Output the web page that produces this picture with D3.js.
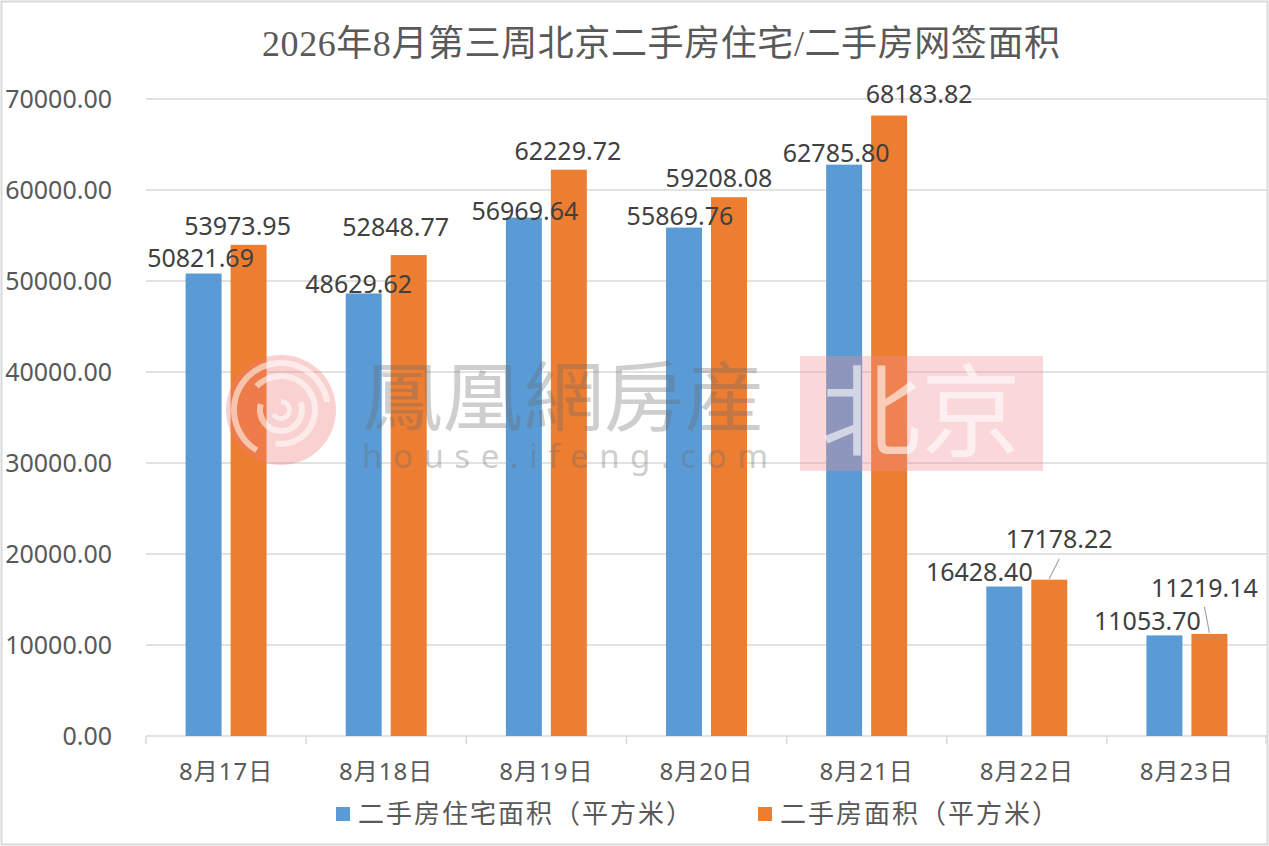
<!DOCTYPE html>
<html>
<head>
<meta charset="utf-8">
<script src="https://cdn.jsdelivr.net/npm/d3@7/dist/d3.min.js"></script>
<style>
  body { margin: 0; background: #fff; }
</style>
</head>
<body>
<div id="chart"></div>
<script>
const title = "2026年8月第三周北京二手房住宅/二手房网签面积";
const categories = ["8月17日", "8月18日", "8月19日", "8月20日", "8月21日", "8月22日", "8月23日"];
const residentialArea = [50821.69, 48629.62, 56969.64, 55869.76, 62785.80, 16428.40, 11053.70];
const totalArea = [53973.95, 52848.77, 62229.72, 59208.08, 68183.82, 17178.22, 11219.14];
const seriesNames = ["二手房住宅面积（平方米）", "二手房面积（平方米）"];
const yTicks = [0, 10000, 20000, 30000, 40000, 50000, 60000, 70000];

// labels were dragged by hand in the original: [dx, dy] of label centre from bar top centre
const labelNudge = [
    [[-3, -15], [-5, -9], [1, -6], [-4, -11], [-8, -11], [-25, -14], [-17, -14]],
    [[-11, -19], [-13, -28], [-1, -18], [-10, -19], [30, -21], [10, -40], [-5, -46]]
];

const width = 1269;
const height = 846;
const marginLeft = 146;
const marginRight = 2;
const marginTop = 99;
const baseY = 736;
const colors = ["#5b9bd5", "#ed7d31"];
const numFont = "'Noto Sans', 'Open Sans', sans-serif";
const cjkFont = "'Noto Sans', 'Noto Sans CJK SC', sans-serif";

const series = [residentialArea, totalArea];

const svg = d3.select("#chart").append("svg")
    .attr("width", width)
    .attr("height", height)
    .attr("viewBox", [0, 0, width, height]);

// chart frame
svg.append("rect")
    .attr("x", 1.5).attr("y", 1.5)
    .attr("width", width - 3).attr("height", height - 3)
    .attr("fill", "#fff")
    .attr("stroke", "#d9d9d9")
    .attr("stroke-width", 2);

// scales
const x = d3.scaleBand()
    .domain(categories)
    .range([marginLeft, width - marginRight])
    .padding(0);

const x1 = d3.scaleBand()
    .domain([0, 1])
    .range([0, x.bandwidth()])
    .paddingInner(0.2)
    .paddingOuter(0.88);

const y = d3.scaleLinear()
    .domain([0, 70000])
    .range([baseY, marginTop]);

// title
svg.append("text")
    .attr("x", 661)
    .attr("y", 43)
    .attr("dy", "0.35em")
    .attr("text-anchor", "middle")
    .attr("font-family", "'Liberation Serif', 'Noto Sans CJK SC', serif")
    .attr("font-size", 36)
    .attr("textLength", 798)
    .attr("lengthAdjust", "spacing")
    .attr("fill", "#595959")
    .text(title);

// gridlines
svg.append("g")
    .attr("stroke", "#d9d9d9")
    .attr("stroke-width", 1.5)
    .selectAll("line")
    .data(yTicks)
    .join("line")
    .attr("x1", marginLeft)
    .attr("x2", width - marginRight)
    .attr("y1", d => y(d))
    .attr("y2", d => y(d));

// category tick marks on the x axis
svg.append("g")
    .attr("stroke", "#d9d9d9")
    .attr("stroke-width", 1.5)
    .selectAll("line")
    .data(categories.concat(["end"]))
    .join("line")
    .attr("x1", (d, i) => i < categories.length ? x(d) : width - marginRight - 1)
    .attr("x2", (d, i) => i < categories.length ? x(d) : width - marginRight - 1)
    .attr("y1", baseY)
    .attr("y2", baseY + 8);

// y axis labels
svg.append("g")
    .attr("transform", `translate(${marginLeft - 34},0)`)
    .call(d3.axisLeft(y).tickValues(yTicks).tickFormat(d3.format(".2f")).tickSize(0).tickPadding(0))
    .call(g => g.select(".domain").remove())
    .call(g => g.selectAll(".tick text")
        .attr("font-family", numFont)
        .attr("font-size", 25)
        .attr("fill", "#595959"));

// x axis labels
svg.append("g")
    .attr("transform", `translate(0,${baseY})`)
    .call(d3.axisBottom(x).tickSize(0).tickPadding(27))
    .call(g => g.select(".domain").remove())
    .call(g => g.selectAll(".tick text")
        .attr("font-family", cjkFont)
        .attr("font-size", 24)
        .attr("letter-spacing", 1)
        .attr("fill", "#595959"));

// bars
const barData = [];
series.forEach((vals, s) => {
    vals.forEach((v, i) => barData.push({ s: s, i: i, cat: categories[i], value: v }));
});

svg.append("g")
    .selectAll("rect")
    .data(barData)
    .join("rect")
    .attr("x", d => x(d.cat) + x1(d.s))
    .attr("y", d => y(d.value))
    .attr("width", x1.bandwidth())
    .attr("height", d => y(0) - y(d.value))
    .attr("fill", d => colors[d.s]);

// watermark (ifeng house logo), drawn over the bars like in the source
const wm = svg.append("g").attr("pointer-events", "none");

const logo = wm.append("g").attr("transform", "translate(281,410)");
logo.append("circle")
    .attr("r", 55)
    .attr("fill", "#f07b7b")
    .attr("opacity", 0.35);
const swirl = d3.arc();
[[44, 50, -2.6, 1.4], [31, 37, -0.8, 3.3], [18, 24, 1.2, 5.0], [6, 11, 0, 4.2]].forEach(a => {
    logo.append("path")
        .attr("d", swirl({ innerRadius: a[0], outerRadius: a[1], startAngle: a[2], endAngle: a[3] }))
        .attr("fill", "#fff")
        .attr("opacity", 0.55);
});

wm.append("text")
    .attr("x", 362)
    .attr("y", 398)
    .attr("dy", "0.35em")
    .attr("font-family", "'Noto Sans CJK TC', serif")
    .attr("font-size", 76)
    .attr("textLength", 403)
    .attr("lengthAdjust", "spacingAndGlyphs")
    .attr("fill", "#6a6a6a")
    .attr("opacity", 0.32)
    .text("鳳凰網房産");

wm.append("text")
    .attr("x", 362)
    .attr("y", 456)
    .attr("dy", "0.35em")
    .attr("font-family", "'Noto Sans', sans-serif")
    .attr("font-size", 33)
    .attr("textLength", 406)
    .attr("lengthAdjust", "spacing")
    .attr("fill", "#6a6a6a")
    .attr("opacity", 0.32)
    .text("house.ifeng.com");

wm.append("rect")
    .attr("x", 800)
    .attr("y", 356)
    .attr("width", 243)
    .attr("height", 115)
    .attr("fill", "#f08c92")
    .attr("opacity", 0.35);

wm.append("text")
    .attr("x", 921)
    .attr("y", 412)
    .attr("dy", "0.36em")
    .attr("text-anchor", "middle")
    .attr("font-family", "'Noto Sans CJK SC', serif")
    .attr("font-size", 100)
    .attr("fill", "#fff")
    .attr("opacity", 0.6)
    .text("北京");

// data labels with leader lines where they sit far from the bar
const labels = barData.map(d => {
    const nudge = labelNudge[d.s][d.i];
    const cx = x(d.cat) + x1(d.s) + x1.bandwidth() / 2;
    const top = y(d.value);
    return { cx: cx, top: top, lx: cx + nudge[0], ly: top + nudge[1], value: d.value };
});

svg.append("g")
    .attr("stroke", "#a6a6a6")
    .attr("stroke-width", 1.2)
    .selectAll("line")
    .data(labels.filter(d => d.ly - d.top < -35))
    .join("line")
    .attr("x1", d => d.lx)
    .attr("y1", d => d.ly + 19)
    .attr("x2", d => d.cx)
    .attr("y2", d => d.top - 1);

svg.append("g")
    .selectAll("text")
    .data(labels)
    .join("text")
    .attr("x", d => d.lx)
    .attr("y", d => d.ly)
    .attr("dy", "0.35em")
    .attr("text-anchor", "middle")
    .attr("font-family", numFont)
    .attr("font-size", 25)
    .attr("fill", "#404040")
    .text(d => d3.format(".2f")(d.value));

// legend
const legendX = [336, 758];
const legend = svg.append("g")
    .selectAll("g")
    .data(seriesNames)
    .join("g")
    .attr("transform", (d, i) => `translate(${legendX[i]},814)`);

legend.append("rect")
    .attr("x", 0)
    .attr("y", -7)
    .attr("width", 14)
    .attr("height", 14)
    .attr("fill", (d, i) => colors[i]);

legend.append("text")
    .attr("x", 22)
    .attr("dy", "0.35em")
    .attr("font-family", cjkFont)
    .attr("font-size", 26)
    .attr("letter-spacing", 2)
    .attr("fill", "#595959")
    .text(d => d);
</script>
</body>
</html>
